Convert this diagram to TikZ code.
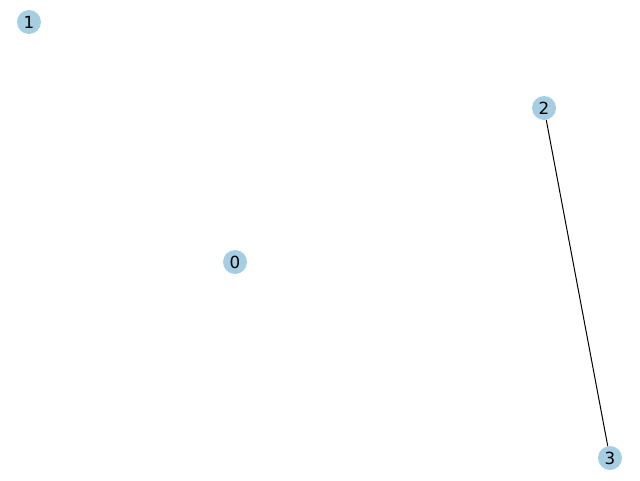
\documentclass[tikz,border=0pt]{standalone}
\usepackage{fontspec}
\setmainfont{DejaVu Sans}
\definecolor{nodeblue}{HTML}{A6CEE3}
\begin{document}
\begin{tikzpicture}[x=1pt,y=-1pt,
  vertex/.style={circle,fill=nodeblue,draw=none,minimum size=24pt,inner sep=0pt,font=\fontsize{16.7}{18}\selectfont},
  edge/.style={draw=black,line width=1pt}]
\useasboundingbox (0,0) rectangle (640,480);
\node[vertex] (n0) at (235,262) {0};
\node[vertex] (n1) at (29,22) {1};
\node[vertex] (n2) at (544,108) {2};
\node[vertex] (n3) at (610,458) {3};
\begin{scope}[on background layer/.try]
\end{scope}
\draw[edge] (n2) -- (n3);
\end{tikzpicture}
\end{document}
